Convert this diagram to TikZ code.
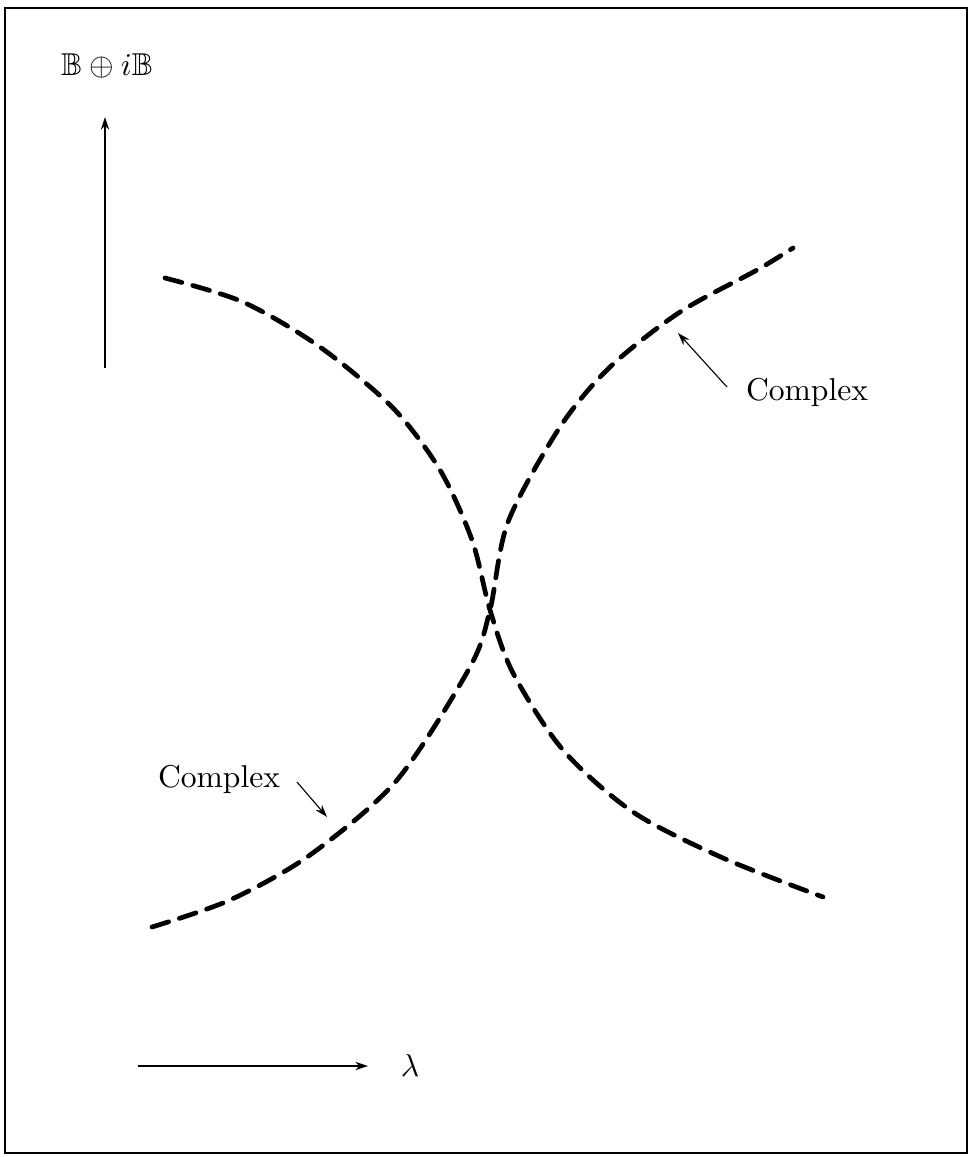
\documentclass[tikz,border=0pt]{standalone}
\usepackage{amsmath,amssymb}
\usepackage{tikz}
\usetikzlibrary{arrows.meta,positioning,calc}

\tikzset{
  frame/.style={line width=0.5pt},
  axis/.style={line width=0.4pt,-{Stealth[length=4pt,width=2.6pt]}},
  pointer/.style={line width=0.35pt,-{Stealth[length=4pt,width=2.6pt]}},
  branch/.style={line width=1.5pt,line cap=round,dash pattern=on 5.5pt off 3.6pt},
}

\begin{document}
\begin{tikzpicture}[x=0.3165pt,y=-0.3165pt,every node/.style={inner sep=1pt}]
  \useasboundingbox (0,0) rectangle (969,1157);
  \draw[frame] (5,8) rectangle (967,1153);

  % axes
  \node (space) at (107,66) {$\mathbb{B}\oplus i\mathbb{B}$};
  \coordinate (ybot) at (105,368);
  \coordinate (ytop) at (105,117);
  \draw[axis] (ybot) -- (ytop);

  \coordinate (xleft) at (138,1066);
  \coordinate (xright) at (368,1066);
  \node (lam) at (410,1066) {$\lambda$};
  \draw[axis] (xleft) -- (xright);

  % the two branches, touching at the centre
  \draw[branch] plot[smooth] coordinates {
    (165,278) (243,302) (320,347) (393,408) (440,470) (472,540)
    (490,610) (513,673) (563,750) (633,812) (723,858) (823,897)};
  \draw[branch] plot[smooth] coordinates {
    (152,927) (230,900) (310,855) (397,780) (470,667)
    (490,610) (508,522) (560,427) (610,367) (680,312) (757,270) (793,248)};

  % labels
  \node (cplxup) at (807,392) {Complex};
  \coordinate (cplxupfrom) at (727,387);
  \coordinate (cplxupto) at (678,333);
  \draw[pointer] (cplxupfrom) -- (cplxupto);

  \node (cplxlo) at (219,779) {Complex};
  \coordinate (cplxlofrom) at (297,782);
  \coordinate (cplxloto) at (327,817);
  \draw[pointer] (cplxlofrom) -- (cplxloto);
\end{tikzpicture}
\end{document}
